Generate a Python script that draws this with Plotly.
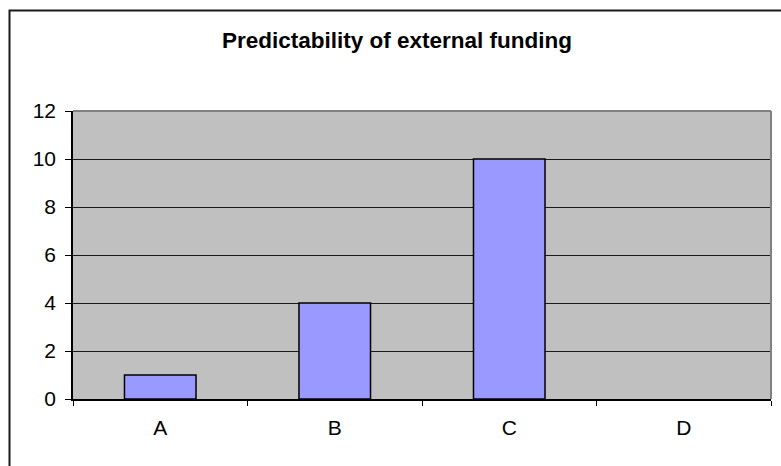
import plotly.graph_objects as go

# Chart data
categories = ["A", "B", "C", "D"]
counts = [1, 4, 10, 0]
y_ticks = [0, 2, 4, 6, 8, 10, 12]

W, H = 781, 466
ML, MR, MT, MB = 73, 10, 111, 67
PW, PH = W - ML - MR, H - MT - MB


def px_to_paper_x(px):
    return (px - ML) / PW


def px_to_paper_y(py):
    return (H - MB - py) / PH


# zero-height bars get no outline so they stay invisible
outline_widths = [1.5 if v > 0 else 0 for v in counts]

fig = go.Figure()
fig.add_trace(go.Bar(
    x=categories,
    y=counts,
    width=0.41,
    marker=dict(color="#9999FF", line=dict(color="#000000", width=outline_widths)),
    hoverinfo="x+y",
))

shapes = [
    # gray top/right frame of the plotting area
    dict(type="line", xref="paper", yref="paper", x0=0, x1=1, y0=1, y1=1,
         line=dict(color="#808080", width=2)),
    dict(type="line", xref="paper", yref="paper", x0=1, x1=1, y0=0, y1=1,
         line=dict(color="#808080", width=2)),
    # outer chart border
    dict(type="rect", xref="paper", yref="paper",
         x0=px_to_paper_x(9.5), x1=px_to_paper_x(795),
         y0=px_to_paper_y(490), y1=px_to_paper_y(10.5),
         line=dict(color="#1a1a1a", width=2), fillcolor="rgba(0,0,0,0)"),
]

fig.update_layout(
    width=W, height=H,
    margin=dict(l=ML, r=MR, t=MT, b=MB),
    paper_bgcolor="white",
    plot_bgcolor="#C0C0C0",
    showlegend=False,
    font=dict(family="Liberation Sans, Arial, sans-serif", color="#000000", size=21),
    title=dict(
        text="<b>Predictability of external funding</b>",
        font=dict(family="Liberation Sans, Arial, sans-serif", size=22.5, color="#000000"),
        x=397 / W, xanchor="center", xref="container",
        y=(H - 40) / H, yanchor="middle", yref="container",
    ),
    xaxis=dict(
        type="category",
        categoryorder="array", categoryarray=categories,
        showline=True, linecolor="#000000", linewidth=1.5,
        ticks="outside", tickson="boundaries", ticklen=5, tickcolor="#000000", tickwidth=1,
        showgrid=False,
        tickfont=dict(size=21),
        ticklabelstandoff=9,
        range=[-0.5, 3.5],
    ),
    yaxis=dict(
        range=[0, 12],
        tickvals=y_ticks,
        showline=True, linecolor="#000000", linewidth=1.5,
        ticks="outside", ticklen=6, tickcolor="#000000", tickwidth=1,
        showgrid=True, gridcolor="#1a1a1a", gridwidth=1.2,
        zeroline=False,
        tickfont=dict(size=21),
        ticklabelstandoff=5,
    ),
    shapes=shapes,
)

fig.write_html("out.html")
